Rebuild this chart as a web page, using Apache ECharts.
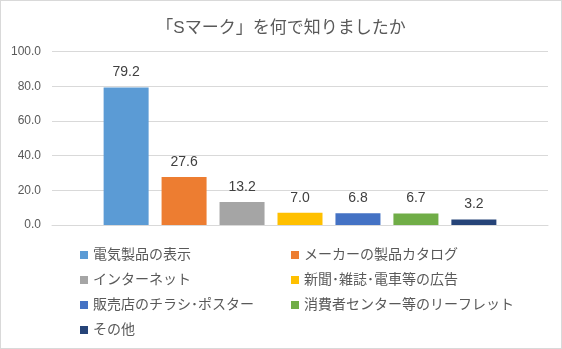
<!DOCTYPE html>
<html>
<head>
<meta charset="utf-8">
<script src="https://cdn.jsdelivr.net/npm/echarts@6/dist/echarts.min.js"></script>
<style>
html,body{margin:0;padding:0;background:#fff;}
#wrap{width:562px;height:349px;box-sizing:border-box;border:1px solid #D9D9D9;position:relative;}
#chart{position:absolute;left:-1px;top:-1px;width:562px;height:349px;}
</style>
</head>
<body>
<div id="wrap"><div id="chart"></div></div>
<script>
const titleText = '「Sマーク」を何で知りましたか';
const categories = ['電気製品の表示','メーカーの製品カタログ','インターネット','新聞･雑誌･電車等の広告','販売店のチラシ･ポスター','消費者センター等のリーフレット','その他'];
const values = [79.2, 27.6, 13.2, 7.0, 6.8, 6.7, 3.2];
const colors = ['#5B9BD5','#ED7D31','#A5A5A5','#FFC000','#4472C4','#70AD47','#264478'];
const yTicks = [0, 20, 40, 60, 80, 100];

const FONT = '"Liberation Sans", "Noto Sans CJK JP", sans-serif';
const chart = echarts.init(document.getElementById('chart'), null, {renderer: 'canvas'});

const series = categories.map((name, i) => ({
  name: name,
  type: 'bar',
  data: [values[i]],
  barWidth: 45,
  barGap: '28.8%',
  itemStyle: {color: colors[i]},
  label: {
    show: true, position: 'top', distance: 8,
    formatter: p => p.value.toFixed(1),
    color: '#404040', fontSize: 14, fontFamily: FONT
  }
}));

chart.setOption({
  animation: false,
  backgroundColor: 'transparent',
  title: {
    text: titleText, left: 'center', top: 15,
    textStyle: {color: '#595959', fontSize: 17, fontWeight: 'normal', fontFamily: FONT}
  },
  grid: {left: 52, right: 14, top: 51.5, bottom: 124, containLabel: false},
  xAxis: {
    type: 'category', data: ['Sマーク'],
    axisLine: {show: true, lineStyle: {color: '#D9D9D9'}},
    axisTick: {show: false}, axisLabel: {show: false}
  },
  yAxis: {
    type: 'value', min: yTicks[0], max: yTicks[yTicks.length - 1], interval: 20,
    axisLine: {show: false}, axisTick: {show: false},
    axisLabel: {color: '#595959', fontSize: 12, fontFamily: FONT, margin: 11,
      formatter: v => v.toFixed(1)},
    splitLine: {lineStyle: {color: '#D9D9D9', width: 1}}
  },
  legend: [
    {
      orient: 'vertical', left: 75, top: 243, itemGap: 11,
      itemWidth: 8, itemHeight: 8, icon: 'rect',
      data: [categories[0], categories[2], categories[4], categories[6]],
      textStyle: {color: '#595959', fontSize: 14, fontFamily: FONT}
    },
    {
      orient: 'vertical', left: 286, top: 243, itemGap: 11,
      itemWidth: 8, itemHeight: 8, icon: 'rect',
      data: [categories[1], categories[3], categories[5]],
      textStyle: {color: '#595959', fontSize: 14, fontFamily: FONT}
    }
  ],
  series: series
});
</script>
</body>
</html>
